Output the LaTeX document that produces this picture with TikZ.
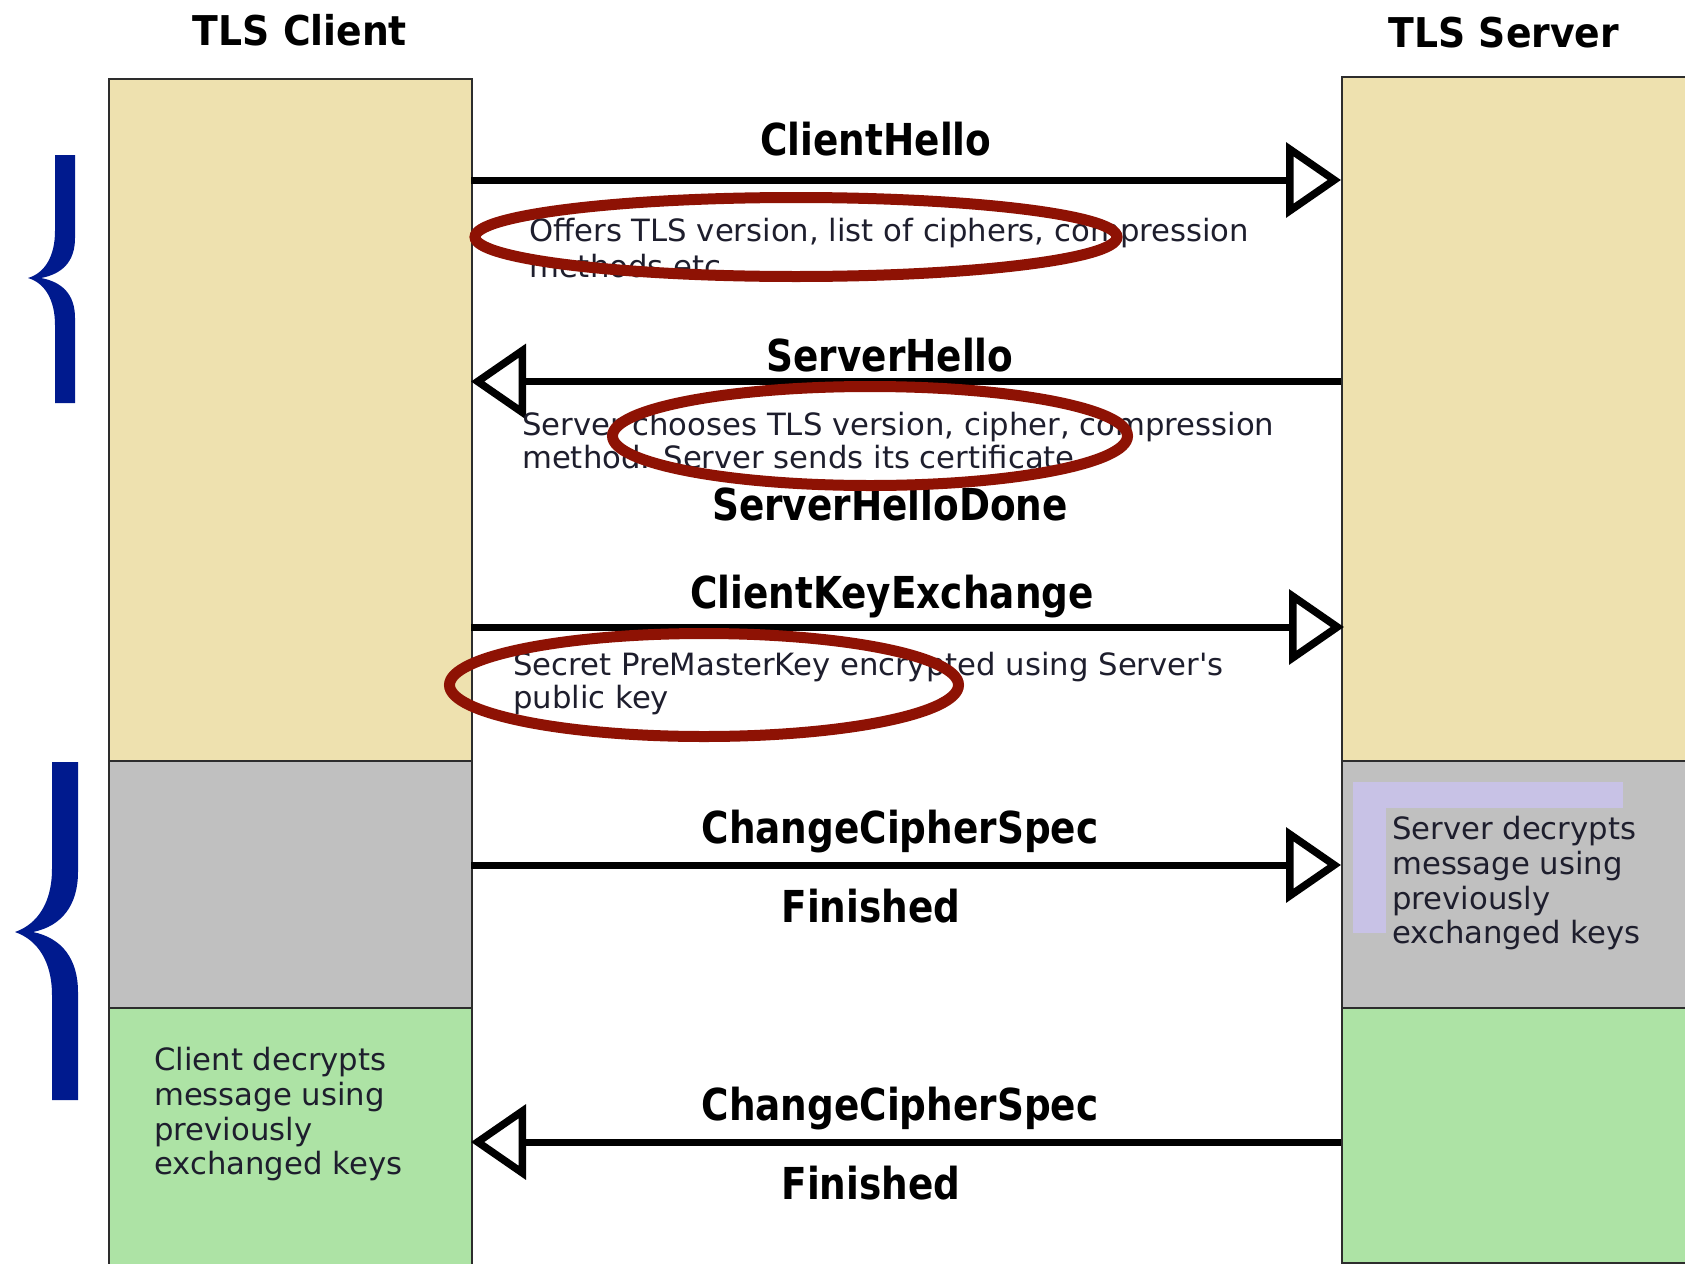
\documentclass[tikz,border=0pt]{standalone}
\usepackage{fontspec}
\setmainfont{DejaVu Sans}
\newfontfamily\smfont{DejaVu Sans}
\newfontfamily\lblfont{DejaVu Sans Bold}[FakeStretch=0.85]
\newfontfamily\ttlfont{DejaVu Sans Bold}[FakeStretch=0.92]
\usetikzlibrary{arrows.meta,shapes.geometric}
\definecolor{tanc}{RGB}{238,225,175}
\definecolor{grayc}{RGB}{192,192,192}
\definecolor{greenc}{RGB}{173,227,165}
\definecolor{lavc}{RGB}{200,194,230}
\definecolor{ringc}{RGB}{142,18,4}
\definecolor{navyc}{RGB}{0,26,142}
\definecolor{boxline}{RGB}{45,45,45}
\definecolor{txtc}{RGB}{30,30,45}
\tikzset{
  box/.style={draw=boxline, line width=2pt, inner sep=0pt, anchor=north west},
  lbl/.style={anchor=base, inner sep=0pt, font=\lblfont\fontsize{44}{50}\selectfont},
  ttl/.style={anchor=base, inner sep=0pt, font=\ttlfont\fontsize{41}{48}\selectfont},
  sm/.style={anchor=base west, inner sep=0pt, text=txtc, font=\smfont\fontsize{30.7}{36}\selectfont},
  msg/.style={line width=7pt, -{Triangle[open, length=55pt, width=74pt, line width=7.5pt]}},
  ring/.style={draw=ringc, line width=11pt, ellipse, inner sep=0pt}
}
\begin{document}
\begin{tikzpicture}[x=1pt,y=-1pt]
\useasboundingbox (0,0) rectangle (1685,1263);
\fill[white] (0,0) rectangle (1685,1263);

% lifeline boxes
\node[box, fill=tanc,   minimum width=363pt, minimum height=682pt] (ctan)   at (108,78) {};
\node[box, fill=grayc,  minimum width=363pt, minimum height=247pt] (cgray)  at (108,760) {};
\node[box, fill=greenc, minimum width=363pt, minimum height=262pt] (cgreen) at (108,1007) {};
\node[box, fill=tanc,   minimum width=362pt, minimum height=684pt] (stan)   at (1341,76) {};
\node[box, fill=grayc,  minimum width=362pt, minimum height=247pt] (sgray)  at (1341,760) {};
\node[box, fill=greenc, minimum width=362pt, minimum height=255pt] (sgreen) at (1341,1007) {};

% titles
\node[ttl] (tc) at (300,46) {TLS Client};
\node[ttl] (ts) at (1504,48) {TLS Server};

% lavender highlight
\fill[lavc] (1353,782) rectangle (1623,808);
\fill[lavc] (1353,808) rectangle (1386,933);

% message end points
\coordinate (m1a) at (471,180);   \coordinate (m1b) at (1341,180);
\coordinate (m2a) at (1341,381.5);\coordinate (m2b) at (471,381.5);
\coordinate (m3a) at (471,627);   \coordinate (m3b) at (1344,627);
\coordinate (m4a) at (471,865);   \coordinate (m4b) at (1341,865);
\coordinate (m5a) at (1341,1142); \coordinate (m5b) at (471,1142);

\draw[msg] (m1a) -- (m1b);
\draw[msg] (m2a) -- (m2b);
\draw[msg] (m3a) -- (m3b);
\draw[msg] (m4a) -- (m4b);
\draw[msg] (m5a) -- (m5b);

% message labels
\node[lbl] (l1) at (876,155) {ClientHello};
\node[lbl] (l2) at (890,371) {ServerHello};
\node[lbl] (l3) at (890,520) {ServerHelloDone};
\node[lbl] (l4) at (892,608) {ClientKeyExchange};
\node[lbl] (l5) at (900,843) {ChangeCipherSpec};
\node[lbl] (l6) at (871,922) {Finished};
\node[lbl] (l7) at (900,1120) {ChangeCipherSpec};
\node[lbl] (l8) at (871,1199) {Finished};

% small texts
\node[sm] (t1a) at (529,241) {Offers TLS version, list of ciphers, compression};
\node[sm] (t1b) at (529,277) {methods etc};
\node[sm] (t2a) at (522,435) {Server chooses TLS version, cipher, compression};
\node[sm] (t2b) at (522,468) {method. Server sends its certificate};
\node[sm] (t3a) at (513,675) {Secret PreMasterKey encrypted using Server's};
\node[sm] (t3b) at (513,708) {public key};
\node[sm] (s1) at (1392,839) {Server decrypts};
\node[sm] (s2) at (1392,874) {message using};
\node[sm] (s3) at (1392,909) {previously};
\node[sm] (s4) at (1392,943) {exchanged keys};
\node[sm] (c1) at (154,1070) {Client decrypts};
\node[sm] (c2) at (154,1105) {message using};
\node[sm] (c3) at (154,1140) {previously};
\node[sm] (c4) at (154,1174) {exchanged keys};

% red rings
\node[ring, minimum width=642pt, minimum height=79pt] (e1) at (796,237) {};
\node[ring, minimum width=515pt, minimum height=99pt] (e2) at (870,436) {};
\node[ring, minimum width=509pt, minimum height=103pt] (e3) at (704,685) {};

% braces
\fill[navyc] (55,155) -- (75,155) -- (75,238) .. controls (75,262) and (62,274) .. (41,278)
  .. controls (62,282) and (75,294) .. (75,318) -- (75,403) -- (55,403) -- (55,325)
  .. controls (55,300) and (45,283) .. (28,278) .. controls (45,273) and (55,256) .. (55,231) -- cycle;
\fill[navyc] (52,762) -- (78,762) -- (78,872) .. controls (78,905) and (62,926) .. (33,932)
  .. controls (62,938) and (78,959) .. (78,992) -- (78,1100) -- (52,1100) -- (52,995)
  .. controls (52,962) and (38,940) .. (15,932) .. controls (38,924) and (52,902) .. (52,869) -- cycle;
\end{tikzpicture}
\end{document}
